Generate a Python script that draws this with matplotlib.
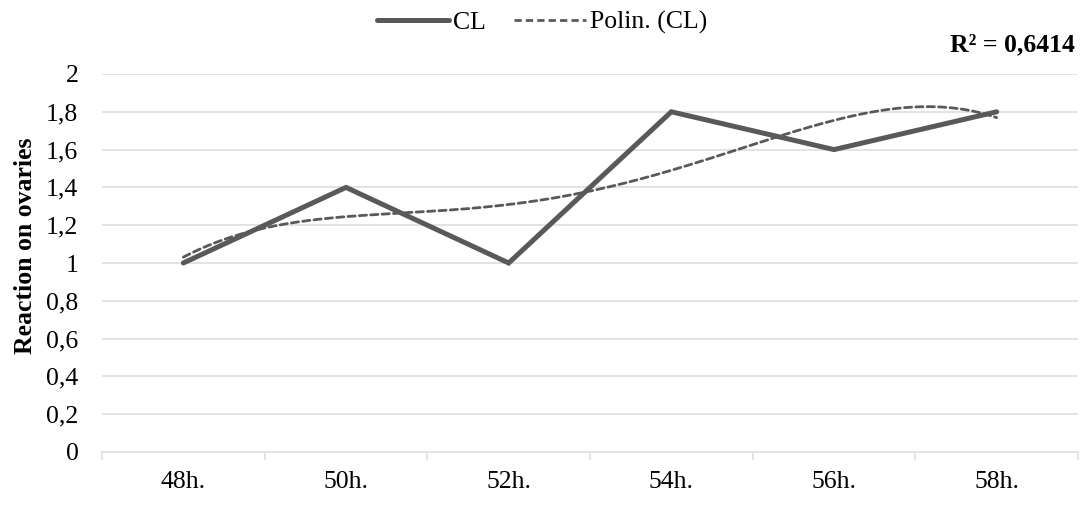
import numpy as np
import matplotlib
matplotlib.use("Agg")
import matplotlib.pyplot as plt
from matplotlib.lines import Line2D

# Measured reaction on ovaries by time point
categories = ["48h.", "50h.", "52h.", "54h.", "56h.", "58h."]
cl_values = [1.0, 1.4, 1.0, 1.8, 1.6, 1.8]
y_ticks = [0, 0.2, 0.4, 0.6, 0.8, 1.0, 1.2, 1.4, 1.6, 1.8, 2.0]
y_tick_labels = ["0", "0,2", "0,4", "0,6", "0,8", "1", "1,2", "1,4", "1,6", "1,8", "2"]
poly_order = 4

plt.rcParams["font.family"] = ["Liberation Serif", "DejaVu Serif"]
FS = 18.5

fig = plt.figure(figsize=(10.84, 5.05), dpi=100)
ax = fig.add_axes([102 / 1084, 53 / 505, 976 / 1084, 378 / 505])

x = np.arange(1, len(cl_values) + 1)
y = np.array(cl_values)

# Polynomial trendline (order 4) fitted to the series
coef = np.polyfit(x, y, poly_order)
fitted = np.polyval(coef, x)
r2 = 1 - np.sum((y - fitted) ** 2) / np.sum((y - y.mean()) ** 2)
xs = np.linspace(1, len(cl_values), 300)
trend = np.polyval(coef, xs)

line_color = "#595959"
grid_color = "#dde1e8"
solid_lw = 3.6
dash_lw = 2.0
dash_style = (0, (2.6, 1.5))

for t in y_ticks[1:]:
    ax.axhline(t, color=grid_color, lw=1.3, zorder=0)

ax.plot(x, y, color=line_color, lw=solid_lw, solid_capstyle="round",
        solid_joinstyle="miter", zorder=3)
ax.plot(xs, trend, color=line_color, lw=dash_lw, linestyle=dash_style,
        dash_capstyle="round", zorder=4)

ax.set_xlim(0.5, len(cl_values) + 0.5)
ax.set_ylim(0, 2)

ax.set_yticks(y_ticks)
ax.set_yticklabels(y_tick_labels, fontsize=FS)
ax.tick_params(axis="y", length=0, pad=17)

ax.set_xticks(x)
ax.set_xticklabels(categories, fontsize=FS)
ax.tick_params(axis="x", which="major", length=0, pad=14)
ax.set_xticks(np.arange(0.5, len(cl_values) + 1, 1), minor=True)
ax.tick_params(axis="x", which="minor", length=6, color=grid_color, width=1.3)

for side in ["top", "right", "left"]:
    ax.spines[side].set_visible(False)
ax.spines["bottom"].set_color(grid_color)
ax.spines["bottom"].set_linewidth(1.3)

ax.set_ylabel("Reaction on ovaries", fontsize=FS, fontweight="bold")
ax.yaxis.set_label_coords(-0.0667, 0.545)

handles = [
    Line2D([], [], color=line_color, lw=solid_lw, solid_capstyle="round"),
    Line2D([], [], color=line_color, lw=dash_lw, linestyle=dash_style),
]
fig.legend(handles, ["CL", "Polin. (CL)"], loc="center", bbox_to_anchor=(0.5, 0.955),
           ncol=2, frameon=False, fontsize=FS, handlelength=2.8, handletextpad=0.15,
           columnspacing=1.1)

r2_text = "R² = " + f"{r2:.4f}".replace(".", ",")
fig.text(1075 / 1084, 1 - 45 / 505, r2_text, ha="right", va="center",
         fontsize=FS, fontweight="bold")

fig.savefig("out.png", dpi=100)
